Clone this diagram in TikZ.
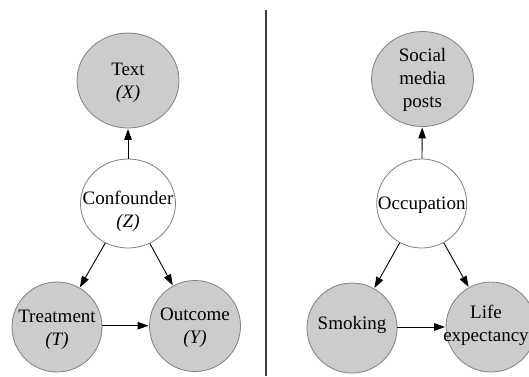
\documentclass[tikz,border=0pt]{standalone}
\usepackage{fontspec}
\setmainfont{Liberation Serif}
\usetikzlibrary{shapes.geometric,arrows.meta}
\definecolor{bubblefill}{HTML}{CCCCCC}
\definecolor{bubbleedge}{HTML}{808080}
\tikzset{
  bubble/.style={ellipse, draw=bubbleedge, line width=0.8pt, inner sep=0pt, fill=bubblefill},
  hidden/.style={ellipse, draw=bubbleedge, line width=0.8pt, inner sep=0pt, fill=white},
  lbl/.style={align=center, inner sep=0pt, font=\fontsize{19}{23}\selectfont},
  edge/.style={line width=0.9pt, -{Triangle[length=11pt,width=7.5pt]}, shorten >=0.5pt},
}
\begin{document}
\begin{tikzpicture}[x=1pt,y=-1pt]
\useasboundingbox[fill=white] (0,0) rectangle (529,376);
% left diagram
\node[bubble, minimum width=102pt, minimum height=95pt] (text) at (128,80.5) {};
\node[hidden, minimum width=95pt, minimum height=89pt] (conf) at (128,203.5) {};
\node[bubble, minimum width=90pt, minimum height=90pt] (treat) at (57,327) {};
\node[bubble, minimum width=91pt, minimum height=91pt] (out) at (195,326) {};
\node[lbl] (textl) at (128,82.5) {Text\\\textit{(X)}};
\node[lbl] (confl) at (128,211) {Confounder\\\textit{(Z)}};
\node[lbl] (treatl) at (57,330) {Treatment\\\textit{(T)}};
\node[lbl] (outl) at (195,327.5) {Outcome\\\textit{(Y)}};
\draw[edge] (conf) -- (text);
\draw[edge] (conf) -- (treat);
\draw[edge] (conf) -- (out);
\draw[edge] (treat.east |- 0,325.7) -- (out.west |- 0,325.7);
% divider
\coordinate (dtop) at (266,10);
\coordinate (dbot) at (266,376);
\draw[line width=1.2pt, black!75] (dtop) -- (dbot);
% right diagram
\node[bubble, minimum width=102pt, minimum height=95pt] (posts) at (422.5,79) {};
\node[hidden, minimum width=90pt, minimum height=89pt] (occ) at (421.7,203.5) {};
\node[bubble, minimum width=90pt, minimum height=90pt] (smoke) at (352,328) {};
\node[bubble, minimum width=90pt, minimum height=90pt] (life) at (491,327) {};
\node[lbl] (postsl) at (422.5,79.5) {Social\\media\\posts};
\node[lbl] (occl) at (421.7,205) {Occupation};
\node[lbl] (smokel) at (352,325) {Smoking};
\node[lbl] (lifel) at (486,325) {Life\\expectancy};
\draw[edge] (occ) -- (posts);
\draw[edge] (occ) -- (smoke);
\draw[edge] (occ) -- (life);
\draw[edge] (smoke.east |- 0,327) -- (life.west |- 0,327);
\end{tikzpicture}
\end{document}
